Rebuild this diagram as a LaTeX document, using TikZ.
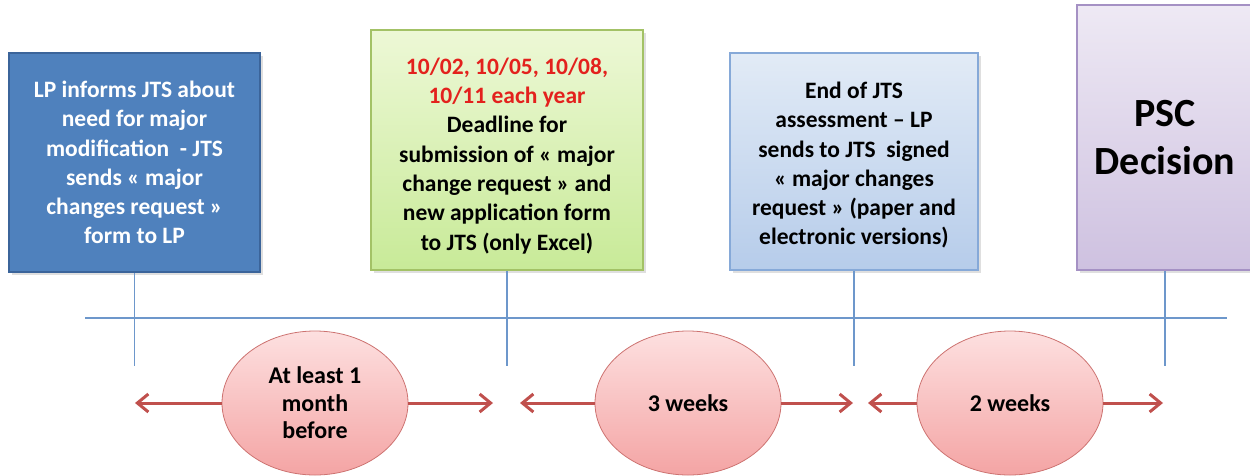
\documentclass[tikz,border=0pt]{standalone}
\usepackage{fontspec}
\setmainfont{Carlito}
\usetikzlibrary{positioning, arrows.meta, shapes.geometric, shadows}

\definecolor{boxdark}{HTML}{4F81BD}
\definecolor{boxdarkline}{HTML}{3B649A}
\definecolor{greentop}{HTML}{EDF8D6}
\definecolor{greenbot}{HTML}{C8EA98}
\definecolor{greenline}{HTML}{A3C266}
\definecolor{bluetop}{HTML}{E2EBF6}
\definecolor{bluebot}{HTML}{B6CCEA}
\definecolor{blueline}{HTML}{86A9D8}
\definecolor{purptop}{HTML}{EEE9F4}
\definecolor{purpbot}{HTML}{CEC1E0}
\definecolor{purpline}{HTML}{A591C4}
\definecolor{linecol}{HTML}{6D97CB}
\definecolor{pinktop}{HTML}{FDE0E0}
\definecolor{pinkbot}{HTML}{F4A4A4}
\definecolor{spancol}{HTML}{C0504D}
\definecolor{datered}{HTML}{E3211D}

\tikzset{
box/.style={rectangle, draw, line width=1.6pt, align=center,
  font=\bfseries\fontsize{23.5}{29.3}\selectfont,
  drop shadow={shadow xshift=2.5pt, shadow yshift=-3pt, opacity=0.25}}, % milestone boxes
timeline/.style={draw=linecol, line width=1.4pt}, % time axis and ticks
period/.style={ellipse, draw=spancol!80, line width=0.8pt, top color=pinktop,
  bottom color=pinkbot, minimum width=186pt, minimum height=144pt, inner sep=0pt,
  align=center, font=\bfseries\fontsize{24}{27.5}\selectfont}, % duration bubbles
span/.style={draw=spancol, line width=3pt, -{Straight Barb[length=11pt, width=18pt, line width=3pt]}}, % duration arrows
}

\begin{document}
\begin{tikzpicture}[x=1pt, y=-1pt]
    \useasboundingbox (0,0) rectangle (1250,475);

    % boxes
    \node[box, fill=boxdark, draw=boxdarkline, text=white, minimum width=251pt, minimum height=219pt]
        (inform) at (134.5,162.5) {LP informs JTS about\\ need for major\\ modification \ - JTS\\ sends « major\\ changes request »\\ form to LP};
    \node[box, top color=greentop, bottom color=greenbot, draw=greenline, minimum width=272pt, minimum height=240pt]
        (deadline) at (507,150) {\rule{0pt}{28pt}\textcolor{datered}{10/02, 10/05, 10/08,}\\ \textcolor{datered}{10/11 each year}\\ Deadline for\\ submission of « major\\ change request » and\\ new application form\\ to JTS (only Excel)};
    \node[box, top color=bluetop, bottom color=bluebot, draw=blueline, minimum width=248pt, minimum height=217pt]
        (assess) at (854,161.5) {\rule{0pt}{24pt}End of JTS\\ assessment -- LP\\ sends to JTS \ signed\\ « major changes\\ request » (paper and\\ electronic versions)};
    \node[box, top color=purptop, bottom color=purpbot, draw=purpline, minimum width=176pt, minimum height=265pt,
        font=\bfseries\fontsize{40}{48}\selectfont]
        (psc) at (1165,137.5) {PSC\\ Decision};

    % time axis
    \coordinate (axisL) at (85,318);
    \coordinate (axisR) at (1227,318);
    \coordinate (tick) at (0,366);
    \draw[timeline] (axisL) -- (axisR);
    \draw[timeline] (inform.south) -- (inform.south |- tick);
    \draw[timeline] (deadline.south) -- (deadline.south |- tick);
    \draw[timeline] (assess.south) -- (assess.south |- tick);
    \draw[timeline] (psc.south) -- (psc.south |- tick);

    % durations
    \node[period] (month) at (315,403) {At least 1\\ month\\ before};
    \node[period] (three) at (688,403) {3 weeks};
    \node[period] (two) at (1010,403) {2 weeks};

    \coordinate (m1) at (135,403);
    \coordinate (m2) at (493,403);
    \coordinate (t1) at (520,403);
    \coordinate (t2) at (853,403);
    \coordinate (w1) at (868,403);
    \coordinate (w2) at (1163,403);

    \draw[span] (month.west) -- (m1);
    \draw[span] (month.east) -- (m2);
    \draw[span] (three.west) -- (t1);
    \draw[span] (three.east) -- (t2);
    \draw[span] (two.west) -- (w1);
    \draw[span] (two.east) -- (w2);
\end{tikzpicture}
\end{document}
